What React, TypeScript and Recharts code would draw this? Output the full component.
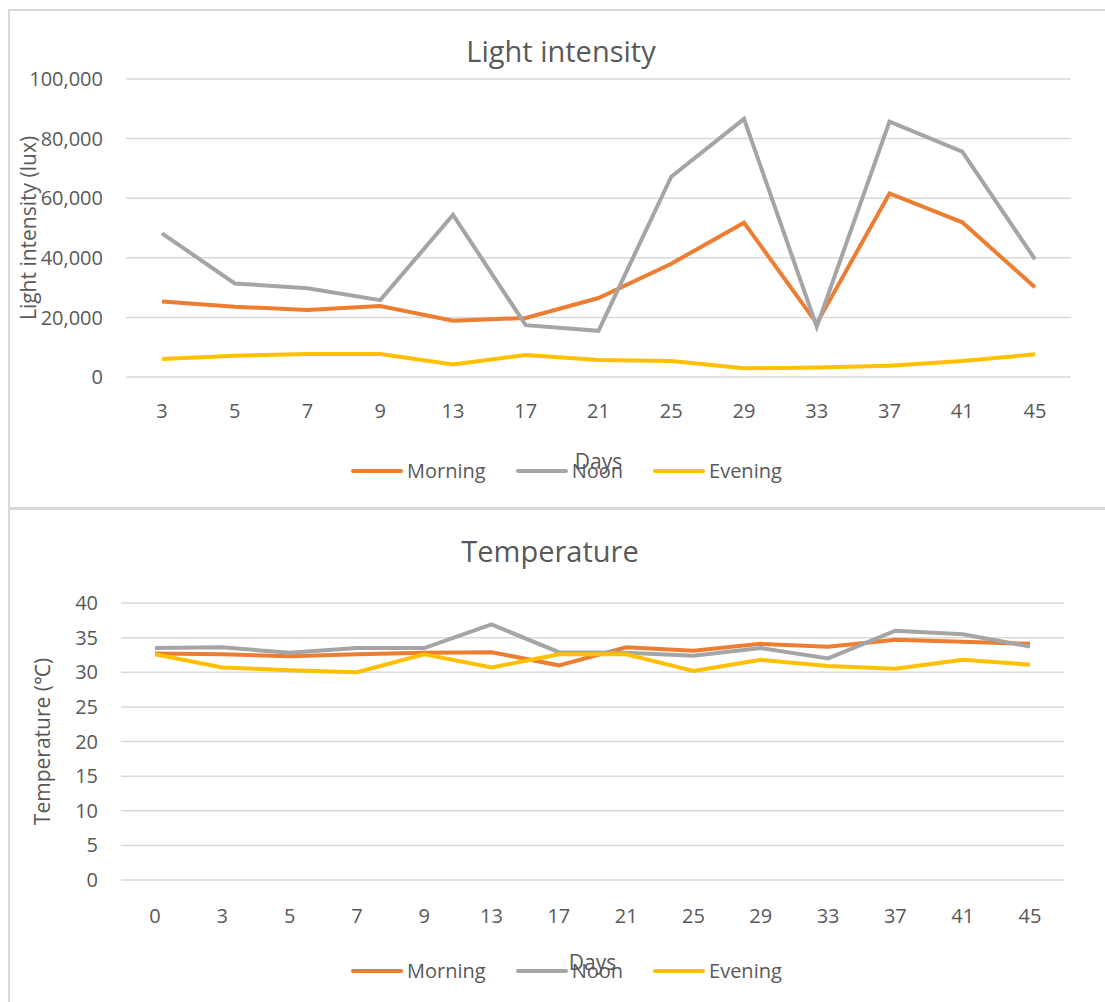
import React from 'react';
import { LineChart, Line, XAxis, YAxis, CartesianGrid, Legend, Label } from 'recharts';

const lightDays = ['3', '5', '7', '9', '13', '17', '21', '25', '29', '33', '37', '41', '45'];
const lightMorning = [25300, 23600, 22500, 23800, 18900, 19800, 26500, 38000, 51800, 18000, 61600, 51900, 30100];
const lightNoon = [48200, 31400, 29800, 25800, 54400, 17400, 15500, 67200, 86600, 16900, 85700, 75600, 39500];
const lightEvening = [6000, 7100, 7700, 7700, 4200, 7400, 5700, 5400, 2900, 3200, 3800, 5400, 7600];
const lightTicks = [0, 20000, 40000, 60000, 80000, 100000];

const tempDays = ['0', '3', '5', '7', '9', '13', '17', '21', '25', '29', '33', '37', '41', '45'];
const tempMorning = [32.7, 32.6, 32.3, 32.6, 32.8, 32.9, 31.0, 33.6, 33.1, 34.1, 33.7, 34.7, 34.4, 34.1];
const tempNoon = [33.5, 33.6, 32.8, 33.5, 33.5, 36.9, 32.9, 32.8, 32.4, 33.5, 32.0, 36.0, 35.5, 33.7];
const tempEvening = [32.6, 30.7, 30.3, 30.0, 32.6, 30.7, 32.6, 32.6, 30.2, 31.8, 30.9, 30.5, 31.8, 31.1];
const tempTicks = [0, 5, 10, 15, 20, 25, 30, 35, 40];

const FONT = '"Open Sans", sans-serif';
const TEXT = '#595959';
const GRID = '#d9d9d9';
const series = [
  { key: 'morning', name: 'Morning', color: '#ED7D31' },
  { key: 'noon', name: 'Noon', color: '#A5A5A5' },
  { key: 'evening', name: 'Evening', color: '#FFC000' },
];

const lightData = lightDays.map((d, i) => ({
  day: d,
  morning: lightMorning[i],
  noon: lightNoon[i],
  evening: lightEvening[i],
}));

const tempData = tempDays.map((d, i) => ({
  day: d,
  morning: tempMorning[i],
  noon: tempNoon[i],
  evening: tempEvening[i],
}));

const LegendBox = () => (
  <div style={{ display: 'flex', alignItems: 'center', fontFamily: FONT, fontSize: 20, color: TEXT }}>
    {series.map((s) => (
      <div key={s.key} style={{ display: 'flex', alignItems: 'center', marginRight: 30 }}>
        <div style={{ width: 52, height: 4, borderRadius: 2, background: s.color, marginRight: 4 }} />
        <span>{s.name}</span>
      </div>
    ))}
  </div>
);

// rotated y-axis title, centred on the plot height
const yTitle = (text: string, x: number) => (props: any) => {
  const vb = props.viewBox;
  const cy = vb.y + vb.height / 2;
  return (
    <text x={x} y={cy} transform={`rotate(-90 ${x} ${cy})`} textAnchor="middle"
      dominantBaseline="central" fill={TEXT} fontSize={21} fontFamily={FONT}>
      {text}
    </text>
  );
};

const xTitle = (dy: number) => (props: any) => {
  const vb = props.viewBox;
  return (
    <text x={vb.x + vb.width / 2} y={vb.y + dy} textAnchor="middle" dominantBaseline="central"
      fill={TEXT} fontSize={21} fontFamily={FONT}>
      Days
    </text>
  );
};

const tick = { fill: TEXT, fontSize: 20, fontFamily: FONT };

export default function App() {
  return (
    <div style={{ position: 'absolute', left: 0, top: 0, width: 1105, height: 1002, overflow: 'hidden', background: '#fff' }}>
      {/* panel frames */}
      <div style={{ position: 'absolute', left: 8, top: 9, width: 1097, height: 496, borderLeft: `2px solid ${GRID}`, borderTop: `2px solid ${GRID}`, borderBottom: `2px solid ${GRID}` }} />
      <div style={{ position: 'absolute', left: 8, top: 508, width: 1097, height: 500, borderLeft: `2px solid ${GRID}`, borderTop: `2px solid ${GRID}` }} />

      <div style={{ position: 'absolute', left: 561, top: 50, transform: 'translate(-50%, -50%)', fontFamily: FONT, fontSize: 29, color: TEXT, whiteSpace: 'nowrap' }}>
        Light intensity
      </div>
      <div style={{ position: 'absolute', left: 10, top: 11 }}>
        <LineChart width={1095} height={490} data={lightData} margin={{ top: 68, right: 34, left: 16, bottom: 94 }}>
          <CartesianGrid vertical={false} stroke={GRID} strokeWidth={1.5} />
          <XAxis dataKey="day" axisLine={false} tickLine={false} tick={tick} tickMargin={21} height={30} interval={0}
            padding={{ left: 36, right: 36 }}>
            <Label content={xTitle(84)} />
          </XAxis>
          <YAxis width={100} domain={[0, 100000]} ticks={lightTicks} axisLine={false} tickLine={false} tick={tick}
            tickMargin={17} tickFormatter={(v: number) => v.toLocaleString('en-US')}>
            <Label content={yTitle('Light intensity (lux)', 18)} />
          </YAxis>
          <Legend verticalAlign="middle" content={<LegendBox />} wrapperStyle={{ top: 446, left: 341, width: 'auto' }} />
          {series.map((s) => (
            <Line key={s.key} dataKey={s.key} name={s.name} stroke={s.color} strokeWidth={4} dot={false} isAnimationActive={false} />
          ))}
        </LineChart>
      </div>

      <div style={{ position: 'absolute', left: 550, top: 550, transform: 'translate(-50%, -50%)', fontFamily: FONT, fontSize: 29, color: TEXT, whiteSpace: 'nowrap' }}>
        Temperature
      </div>
      <div style={{ position: 'absolute', left: 10, top: 511 }}>
        <LineChart width={1095} height={490} data={tempData} margin={{ top: 92, right: 41, left: 11, bottom: 91 }}>
          <CartesianGrid vertical={false} stroke={GRID} strokeWidth={1.5} />
          <XAxis dataKey="day" axisLine={false} tickLine={false} tick={tick} tickMargin={23} height={30} interval={0}
            padding={{ left: 34, right: 34 }}>
            <Label content={xTitle(82)} />
          </XAxis>
          <YAxis width={100} domain={[0, 40]} ticks={tempTicks} axisLine={false} tickLine={false} tick={tick} tickMargin={17}>
            <Label content={yTitle('Temperature (℃)', 32)} />
          </YAxis>
          <Legend verticalAlign="middle" content={<LegendBox />} wrapperStyle={{ top: 446, left: 341, width: 'auto' }} />
          {series.map((s) => (
            <Line key={s.key} dataKey={s.key} name={s.name} stroke={s.color} strokeWidth={4} dot={false} isAnimationActive={false} />
          ))}
        </LineChart>
      </div>
    </div>
  );
}
